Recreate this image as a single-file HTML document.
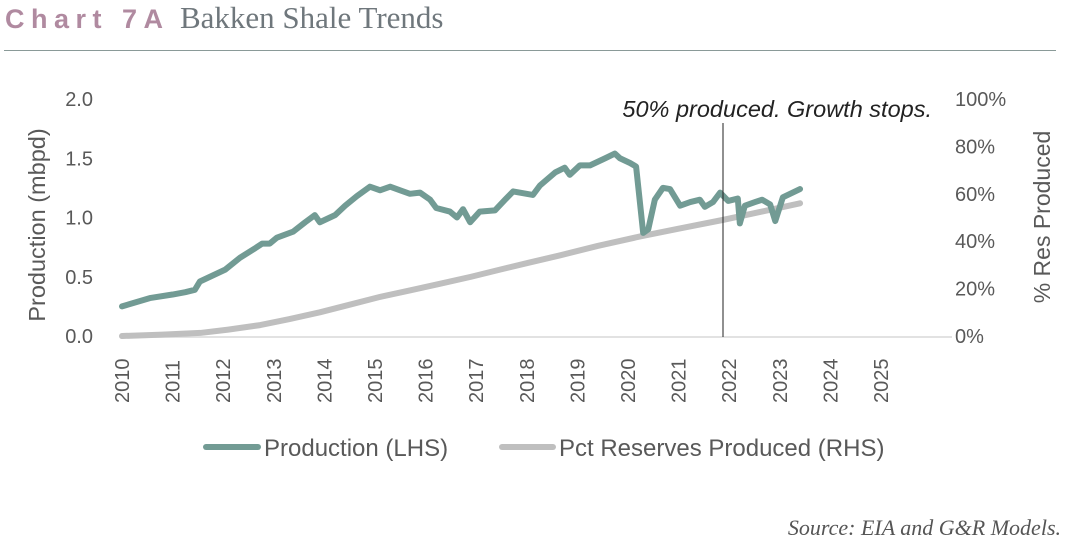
<!DOCTYPE html>
<html><head><meta charset="utf-8"><style>
body{margin:0;background:#fff;width:1074px;height:543px;overflow:hidden;position:relative;font-family:"Liberation Sans",sans-serif}
.t{position:absolute}
</style></head><body>
<div class="t" style="left:5px;top:0px;white-space:nowrap">
<span style="font-family:'Liberation Sans',sans-serif;font-weight:bold;font-size:27px;letter-spacing:6.5px;color:#b08aa0">Chart 7A</span>
<span style="font-family:'Liberation Serif',serif;font-size:31px;color:#6f777c;margin-left:6px">Bakken Shale Trends</span></div>
<div class="t" style="left:4px;top:50px;width:1052px;height:1px;background:#8a9a98"></div>
<svg class="t" style="left:0;top:0" width="1074" height="543">
<g id="g"></g>
<text x="1061" y="535" text-anchor="end" font-family="Liberation Serif,serif" font-style="italic" font-size="22" fill="#555">Source: EIA and G&amp;R Models.</text>
</svg>
<script>
const prodYears=[2010.0,2010.55,2011.0,2011.25,2011.44,2011.54,2012.04,2012.33,2012.63,2012.77,2012.92,2013.06,2013.38,2013.62,2013.81,2013.91,2014.21,2014.41,2014.64,2014.9,2015.1,2015.3,2015.49,2015.69,2015.89,2016.09,2016.21,2016.48,2016.62,2016.74,2016.88,2017.07,2017.37,2017.57,2017.73,2018.12,2018.26,2018.56,2018.75,2018.85,2019.05,2019.25,2019.55,2019.74,2019.84,2020.04,2020.16,2020.3,2020.4,2020.53,2020.69,2020.83,2021.03,2021.23,2021.42,2021.52,2021.68,2021.82,2021.98,2022.17,2022.21,2022.31,2022.51,2022.65,2022.81,2022.91,2023.06,2023.4];
const prodValues=[0.25,0.32,0.35,0.37,0.39,0.46,0.56,0.66,0.74,0.78,0.78,0.83,0.88,0.96,1.02,0.96,1.02,1.10,1.18,1.26,1.23,1.26,1.23,1.20,1.21,1.15,1.08,1.05,1.0,1.07,0.96,1.05,1.06,1.15,1.22,1.19,1.27,1.38,1.42,1.36,1.44,1.44,1.50,1.54,1.50,1.46,1.43,0.87,0.90,1.15,1.25,1.24,1.10,1.13,1.15,1.09,1.13,1.21,1.14,1.16,0.95,1.10,1.13,1.15,1.11,0.97,1.17,1.24];
const pctYears=[2010,2010.8,2011.55,2012.1,2012.73,2013.3,2013.91,2014.5,2015.1,2015.7,2016.28,2016.9,2017.47,2018.05,2018.65,2019.4,2020.24,2021.0,2021.88,2022.6,2023.4];
const pctValues=[0,0.6,1.3,2.7,4.6,7.1,10,13.2,16.5,19.3,22,25,28,31,34,38,42,45.3,49,52.3,56];
const yearTicks=[2010,2011,2012,2013,2014,2015,2016,2017,2018,2019,2020,2021,2022,2023,2024,2025];
const leftTicks=["0.0","0.5","1.0","1.5","2.0"];
const rightTicks=["0%","20%","40%","60%","80%","100%"];
const NS="http://www.w3.org/2000/svg",g=document.getElementById('g');
const X=y=>122+50.6*(y-2010), YL=v=>336-118.5*v, YR=p=>336-2.37*p;
function mk(t,a){const e=document.createElementNS(NS,t);for(const k in a)e.setAttribute(k,a[k]);g.appendChild(e);return e}
let e=mk('line',{x1:120,x2:952,y1:337,y2:337,stroke:'#d9d9d9','stroke-width':1.5});

yearTicks.forEach(y=>{const t=mk('text',{transform:`translate(${X(y)+7},403) rotate(-90)`,'font-size':20,fill:'#595959','font-family':'Liberation Sans,sans-serif'});t.textContent=y;
});
leftTicks.forEach((l,i)=>{const t=mk('text',{x:93,y:YL(i*0.5)+7,'text-anchor':'end','font-size':20,fill:'#595959'});t.textContent=l;
});
rightTicks.forEach((l,i)=>{const t=mk('text',{x:955,y:YR(i*20)+7,'font-size':20,fill:'#595959'});t.textContent=l;
});
let t=mk('text',{transform:'translate(45,225) rotate(-90)','text-anchor':'middle','font-size':23.5,fill:'#595959'});t.textContent='Production (mbpd)';

t=mk('text',{transform:'translate(1050,217) rotate(-90)','text-anchor':'middle','font-size':23,fill:'#595959'});t.textContent='% Res Produced';

e=mk('path',{d:'M'+pctYears.map((y,i)=>X(y)+','+YR(pctValues[i])).join('L'),fill:'none',stroke:'#bfbfbf','stroke-width':6,'stroke-linecap':'round','stroke-linejoin':'round'});

e=mk('path',{d:'M'+prodYears.map((y,i)=>X(y)+','+YL(prodValues[i])).join('L'),fill:'none',stroke:'#729b94','stroke-width':6,'stroke-linecap':'round','stroke-linejoin':'round'});

e=mk('line',{x1:723,x2:723,y1:123,y2:337,stroke:'#222','stroke-width':1});

t=mk('text',{x:932,y:117,'text-anchor':'end','font-size':23.5,'font-style':'italic',fill:'#222'});t.textContent='50% produced. Growth stops.';

e=mk('line',{x1:206,x2:258,y1:447,y2:447,stroke:'#729b94','stroke-width':6,'stroke-linecap':'round'});

t=mk('text',{x:264,y:456,'font-size':24,fill:'#595959'});t.textContent='Production (LHS)';

e=mk('line',{x1:502,x2:553,y1:447,y2:447,stroke:'#bfbfbf','stroke-width':6,'stroke-linecap':'round'});

t=mk('text',{x:559,y:456,'font-size':24,fill:'#595959'});t.textContent='Pct Reserves Produced (RHS)';

</script>
</body></html>
